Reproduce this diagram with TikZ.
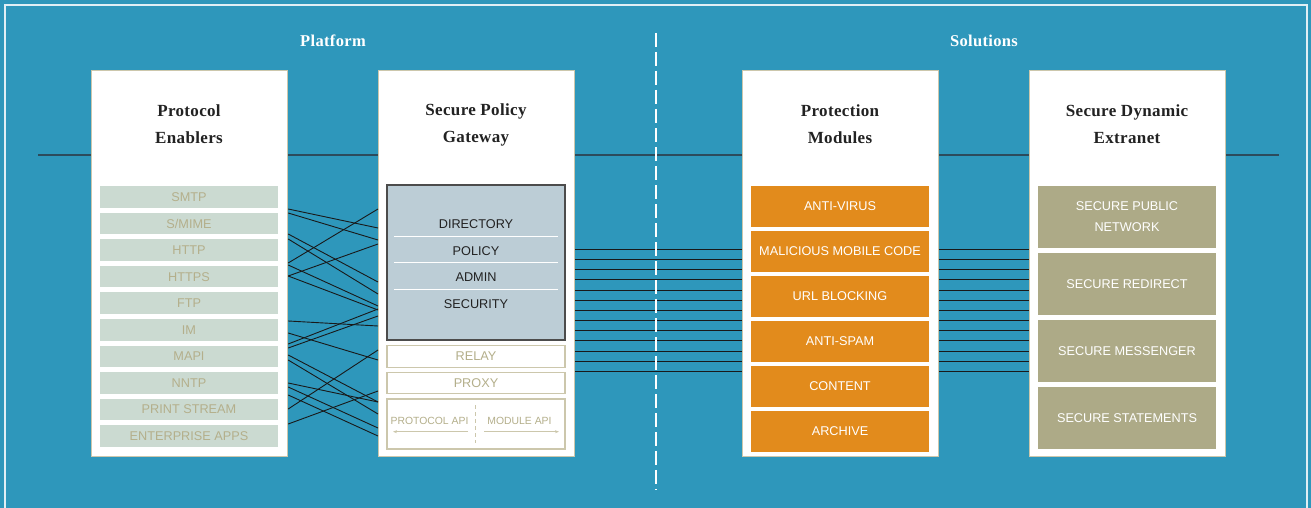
\documentclass[tikz,border=0pt]{standalone}
\usepackage{fontspec}
\setmainfont{Liberation Serif}
\setsansfont{Liberation Sans}
\newfontfamily\headfont[LetterSpace=2]{Liberation Serif}
\usetikzlibrary{arrows.meta}

\definecolor{sea}{HTML}{2E97BB}
\definecolor{ink}{HTML}{222222}
\definecolor{sand}{HTML}{CCC7AC}
\definecolor{sandtext}{HTML}{B4AF8B}
\definecolor{sage}{HTML}{CBDAD1}
\definecolor{slate}{HTML}{BCCDD6}
\definecolor{amber}{HTML}{E28B1C}
\definecolor{khaki}{HTML}{ADAA87}
\definecolor{rule}{HTML}{2C4B5C}

\tikzset{
  panel/.style={draw=sand, fill=white, line width=1.2pt, anchor=north west,
    minimum width=196pt, minimum height=386pt, inner sep=0pt},
  title/.style={font=\headfont\bfseries\fontsize{17}{27}\selectfont, text=ink, align=center},
  heading/.style={font=\headfont\bfseries\fontsize{16.5}{20}\selectfont, text=white},
  cell/.style={minimum width=178pt, inner sep=0pt, font=\sffamily\fontsize{12.7}{21}\selectfont},
  proto/.style={cell, fill=sage, text=sandtext, minimum height=21.5pt},
  slot/.style={cell, draw=sand, line width=1.2pt, fill=white, text=sandtext, minimum height=21.5pt},
  module/.style={cell, fill=amber, text=white, minimum height=40.5pt},
  extra/.style={cell, fill=khaki, text=white, minimum height=61.7pt, align=center},
  apitext/.style={text=sandtext, font=\sffamily\fontsize{10.4}{12}\selectfont},
  wire/.style={draw=black!90, line width=0.9pt}
}

\begin{document}
\begin{tikzpicture}[x=1pt, y=-1pt, >={Stealth[length=4pt,width=3pt]}]
  \useasboundingbox (0,0) rectangle (1311,508);
  \fill[sea] (0,0) rectangle (1311,508);
  \draw[white!85!sea, line width=1.2pt] (5,508) |- (1307,5) -- (1307,508);

  % headings and the long rule
  \node[heading] (plat) at (333,41) {Platform};
  \node[heading] (sol) at (984,41) {Solutions};
  \draw[rule, line width=1.6pt] (38,155) -- (1279,155);

  % the four panels
  \node[panel] (pe) at (91,70) {};
  \node[panel] (gw) at (378,70) {};
  \node[panel] (pm) at (742,70) {};
  \node[panel] (dx) at (1029,70) {};
  \node[title] (pet) at (189,124.5) {Protocol\\Enablers};
  \node[title] (gwt) at (476,124.5) {Secure Policy\\Gateway};
  \node[title] (pmt) at (840,124.5) {Protection\\Modules};
  \node[title] (dxt) at (1127,124.5) {Secure Dynamic\\Extranet};

  % protocol enablers
  \foreach \t [count=\i] in {SMTP, S/MIME, HTTP, HTTPS, FTP, IM, MAPI, NNTP, PRINT STREAM, ENTERPRISE APPS}
    \node[proto] (p\i) at (189,{197+26.55*(\i-1)}) {\t};

  % gateway
  \node[cell, draw=black!70, fill=slate, line width=1.2pt, minimum height=155pt] (blk) at (476,262.5) {};
  \foreach \t/\y [count=\i] in {DIRECTORY/224, POLICY/251, ADMIN/277, SECURITY/304}
    \node[cell, text=ink] (g\i) at (476,\y) {\t};
  \foreach \y in {236,262.7,289}
    \draw[white, line width=1pt] (394,\y) -- (558,\y);
  \node[slot] (relay) at (476,356.5) {RELAY};
  \node[slot] (proxy) at (476,383) {PROXY};
  \node[slot, minimum height=50pt] (api) at (476,424) {};
  \node[apitext] (papi) at (429.5,420.7) {PROTOCOL API};
  \node[apitext] (mapi) at (519.5,420.7) {MODULE API};
  \draw[sand, line width=0.8pt, dash pattern=on 4pt off 3pt] (475.5,405) -- (475.5,443);
  \draw[->, sand, line width=0.8pt] (468,431.7) -- (393,431.7);
  \draw[->, sand, line width=0.8pt] (484,431.7) -- (559,431.7);

  % protection modules
  \foreach \t [count=\i] in {ANTI-VIRUS, MALICIOUS MOBILE CODE, URL BLOCKING, ANTI-SPAM, CONTENT, ARCHIVE}
    \node[module] (m\i) at (840,{206.5+45*(\i-1)}) {\t};

  % extranet
  \foreach \t [count=\i] in {{SECURE PUBLIC\\NETWORK}, SECURE REDIRECT, SECURE MESSENGER, SECURE STATEMENTS}
    \node[extra] (x\i) at (1127,{216.8+67*(\i-1)}) {\t};

  % wiring
  \foreach \a/\b in {209/228, 213/240, 263/209, 234/282, 239/294, 276/244, 265/306, 276/310,
      321/326, 333/360, 344/309, 348/316, 355/402, 360/414, 383/402, 387/428, 395/436, 409/350, 424/391}
    \draw[wire] (pe.east |- 0,\a) -- (gw.west |- 0,\b);
  \foreach \k in {0,...,12}{
    \pgfmathsetmacro\yy{249.3+10.17*\k}
    \draw[wire] (gw.east |- 0,\yy) -- (pm.west |- 0,\yy);
    \draw[wire] (pm.east |- 0,\yy) -- (dx.west |- 0,\yy);
  }

  \draw[white, line width=1.3pt, dash pattern=on 14pt off 5pt] (656,33) -- (656,490);
\end{tikzpicture}
\end{document}
